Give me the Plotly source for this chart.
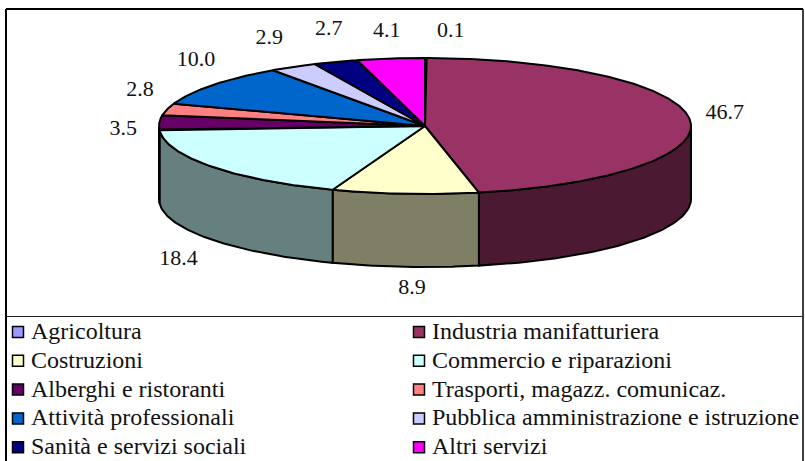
import numpy as np
import plotly.graph_objects as go

categories = ["Agricoltura", "Industria manifatturiera", "Costruzioni", "Commercio e riparazioni",
              "Alberghi e ristoranti", "Trasporti, magazz. comunicaz.", "Attività professionali",
              "Pubblica amministrazione e istruzione", "Sanità e servizi sociali", "Altri servizi"]
values = [0.1, 46.7, 8.9, 18.4, 3.5, 2.8, 10.0, 2.9, 2.7, 4.1]
colors = ["#9999FF", "#993366", "#FFFFCC", "#CCFFFF", "#660066",
          "#FF8080", "#0066CC", "#CCCCFF", "#000080", "#FF00FF"]
# pixel offset of each value label from the rim point at the slice's mid-angle
label_dx = [25, 35, 7, -33, -36, -27, -17, -24, -7, -4]
label_dy = [-27, -6, 95, 93, 7, -19, -24, -28, -32, -27]

CX, CY, RX, RY, DEPTH = 425, 126, 266, 68, 73
FONT = "Liberation Serif"


def rim(deg, depth=0):
    a = np.radians(deg)
    return CX + RX * np.sin(a), CY - RY * np.cos(a) + depth


def darken(hex_color):
    r, g, b = (int(hex_color[i:i + 2], 16) for i in (1, 3, 5))
    return f"rgb({r // 2},{g // 2},{b // 2})"


edges = np.concatenate([[0], np.cumsum(values)]) * 360 / sum(values)
fig = go.Figure()

# sides of the disc (front half only)
for name, col, a0, a1 in zip(categories, colors, edges[:-1], edges[1:]):
    s0, s1 = max(a0, 90), min(a1, 270)
    if s1 <= s0:
        continue
    t = np.linspace(s0, s1, 80)
    xt, yt = rim(t)
    xb, yb = rim(t[::-1], DEPTH)
    fig.add_trace(go.Scatter(x=np.r_[xt, xb, xt[0]], y=np.r_[yt, yb, yt[0]], mode="lines", fill="toself",
                             fillcolor=darken(col), line=dict(color="black", width=2),
                             name=name, hoverinfo="name", showlegend=False))

# top faces
for name, col, a0, a1 in zip(categories, colors, edges[:-1], edges[1:]):
    t = np.linspace(a0, a1, max(int((a1 - a0) * 2), 3))
    xt, yt = rim(t)
    fig.add_trace(go.Scatter(x=np.r_[CX, xt, CX], y=np.r_[CY, yt, CY], mode="lines", fill="toself",
                             fillcolor=col, line=dict(color="black", width=2),
                             name=name, hoverinfo="name", showlegend=False))

# value labels
mid = (edges[:-1] + edges[1:]) / 2
mx, my = rim(mid)
fig.add_trace(go.Scatter(x=mx + np.array(label_dx), y=my + np.array(label_dy), mode="text",
                         text=[f"{v:.1f}" for v in values], textposition="middle center",
                         textfont=dict(family=FONT, size=22, color="#111111"),
                         hoverinfo="skip", showlegend=False))

# legend: two columns of five rows
for i, (name, col) in enumerate(zip(categories, colors)):
    x0 = 18 if i % 2 == 0 else 419
    y0 = 332 + (i // 2) * 28.8
    fig.add_trace(go.Scatter(x=[x0], y=[y0], mode="markers", name=name, showlegend=False,
                             marker=dict(symbol="square", size=11, color=col,
                                         line=dict(color="black", width=1.5)), hoverinfo="name"))
    fig.add_annotation(x=x0 + 11, y=y0 - 1, text=name, showarrow=False, xanchor="left", yanchor="middle",
                       font=dict(family=FONT, size=24, color="#111111"))

line = dict(color="black", width=2)
shapes = [
    dict(type="line", x0=6, x1=803, y0=9, y1=9, line=line),
    dict(type="line", x0=6, x1=6, y0=9, y1=461, line=line),
    dict(type="line", x0=803, x1=803, y0=9, y1=461, line=dict(color="black", width=1.5)),
    dict(type="line", x0=6, x1=803, y0=316.5, y1=316.5, line=dict(color="#222222", width=1.2)),
]
fig.update_layout(width=805, height=461, margin=dict(l=0, r=0, t=0, b=0), paper_bgcolor="white",
                  plot_bgcolor="white", shapes=shapes, showlegend=False,
                  xaxis=dict(range=[0, 805], visible=False, fixedrange=True),
                  yaxis=dict(range=[461, 0], visible=False, fixedrange=True))
fig.write_html("out.html", config=dict(displayModeBar=False), post_script="document.body.style.margin='0';")
